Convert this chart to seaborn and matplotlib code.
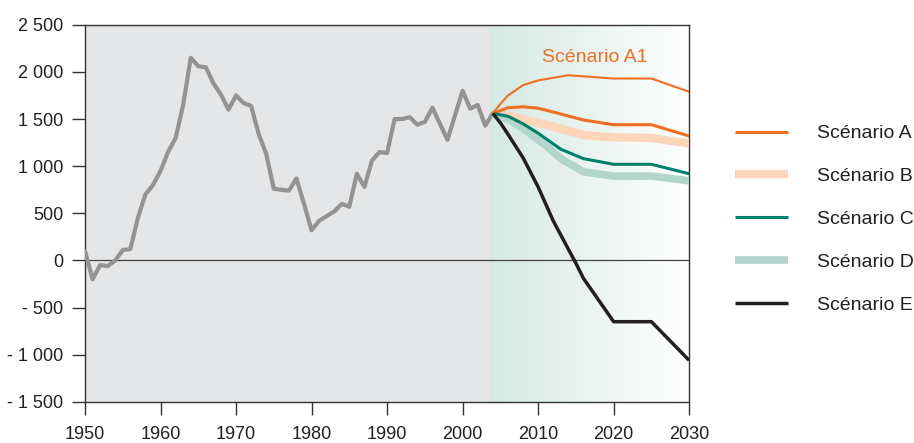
import matplotlib
matplotlib.use("Agg")
import matplotlib.pyplot as plt
import numpy as np
import pandas as pd
import seaborn as sns

# Historical series
hist_years = list(range(1950, 2005))
hist_values = [100, -200, -50, -60, 0, 110, 120, 450, 700, 800,
               950, 1150, 1300, 1650, 2150, 2060, 2050, 1880, 1760, 1600,
               1750, 1670, 1640, 1340, 1130, 760, 750, 740, 870, 600,
               320, 420, 470, 520, 600, 570, 920, 780, 1060, 1150,
               1140, 1500, 1500, 1520, 1440, 1470, 1620, 1450, 1280, 1540,
               1800, 1610, 1650, 1430, 1560]

# Projections
a1_years = [2004, 2005, 2006, 2008, 2010, 2014, 2020, 2025, 2030]
a1_values = [1560, 1660, 1750, 1860, 1910, 1965, 1930, 1930, 1790]
a_years = [2004, 2006, 2008, 2010, 2012, 2016, 2020, 2025, 2030]
a_values = [1560, 1620, 1630, 1615, 1575, 1490, 1440, 1440, 1320]
b_years = [2004, 2006, 2008, 2012, 2016, 2020, 2025, 2030]
b_values = [1560, 1540, 1500, 1420, 1330, 1305, 1300, 1240]
c_years = [2004, 2006, 2008, 2010, 2013, 2016, 2020, 2025, 2030]
c_values = [1560, 1530, 1450, 1350, 1180, 1080, 1020, 1020, 920]
d_years = [2004, 2006, 2008, 2011, 2013, 2016, 2020, 2025, 2030]
d_values = [1560, 1500, 1400, 1220, 1080, 940, 895, 895, 845]
e_years = [2004, 2005, 2006, 2008, 2010, 2012, 2015, 2016, 2020, 2025, 2030]
e_values = [1560, 1460, 1340, 1090, 780, 420, -30, -190, -650, -650, -1060]

x_ticks = [1950, 1960, 1970, 1980, 1990, 2000, 2010, 2020, 2030]
y_ticks = [-1500, -1000, -500, 0, 500, 1000, 1500, 2000, 2500]

sns.set_style("ticks")
plt.rcParams['font.family'] = ['Liberation Sans', 'DejaVu Sans']

fig = plt.figure(figsize=(9.14, 4.43), dpi=100)
ax = fig.add_axes([0.093, 0.093, 0.661, 0.851])

# backgrounds
split = 2003.5
ax.axvspan(1950, split, color="#e5e6e8", zorder=0, lw=0)
grad = np.linspace(0, 1, 256).reshape(1, -1)
start = np.array([0.835, 0.914, 0.890])
end = np.array([1.0, 1.0, 1.0])
img = start[None, None, :] * (1 - grad[..., None]) + end[None, None, :] * grad[..., None]
ax.imshow(img, extent=[split, 2030, -1500, 2500], aspect="auto", zorder=0)

ax.axhline(0, color="#444444", lw=0.9, zorder=1)

sns.lineplot(x=hist_years, y=hist_values, ax=ax, color="#939393", lw=3, zorder=3)

series = [
    ("Scénario B", b_years, b_values, "#fdd5b8", 6.0, 3),
    ("Scénario D", d_years, d_values, "#b3d6cc", 5.5, 3),
    ("Scénario A", a_years, a_values, "#f26f21", 2.2, 4),
    ("Scénario C", c_years, c_values, "#00806a", 2.2, 4),
    ("Scénario E", e_years, e_values, "#231f20", 2.5, 5),
]
handles = {}
for name, yrs, vals, col, lw, z in series:
    sns.lineplot(x=yrs, y=vals, ax=ax, color=col, lw=lw, zorder=z)
    ln = ax.lines[-1]
    ln.set_solid_capstyle("butt")
    handles[name] = ln

sns.lineplot(x=a1_years, y=a1_values, ax=ax, color="#f26f21", lw=1.5, zorder=4)
ax.text(2017.5, 2155, "Scénario A1", color="#f26f21", fontsize=14, ha="center", va="center")

order = ["Scénario A", "Scénario B", "Scénario C", "Scénario D", "Scénario E"]
ax.legend([handles[n] for n in order], order, loc="center left", bbox_to_anchor=(1.076, 0.484),
          frameon=False, fontsize=14, handlelength=2.73, handletextpad=1.5,
          labelspacing=1.3, labelcolor="#231f20", borderpad=0, borderaxespad=0)

ax.set_xlim(1950, 2030)
ax.set_ylim(-1500, 2500)
ax.set_xticks(x_ticks)
ax.set_yticks(y_ticks)


def fmt(v):
    s = f"{abs(v):,}".replace(",", " ")
    return ("- " + s) if v < 0 else s


ax.set_yticklabels([fmt(v) for v in y_ticks])
ax.set_xticklabels([str(v) for v in x_ticks])
ax.tick_params(axis="both", length=9.5, width=1, color="#333333", labelsize=13,
               labelcolor="#231f20")
ax.tick_params(axis="y", pad=6)
ax.tick_params(axis="x", pad=8)
for sp in ax.spines.values():
    sp.set_color("#333333")
    sp.set_linewidth(1)
    sp.set_visible(True)
ax.set_xlabel("")
ax.set_ylabel("")

fig.savefig("out.png", dpi=100)
